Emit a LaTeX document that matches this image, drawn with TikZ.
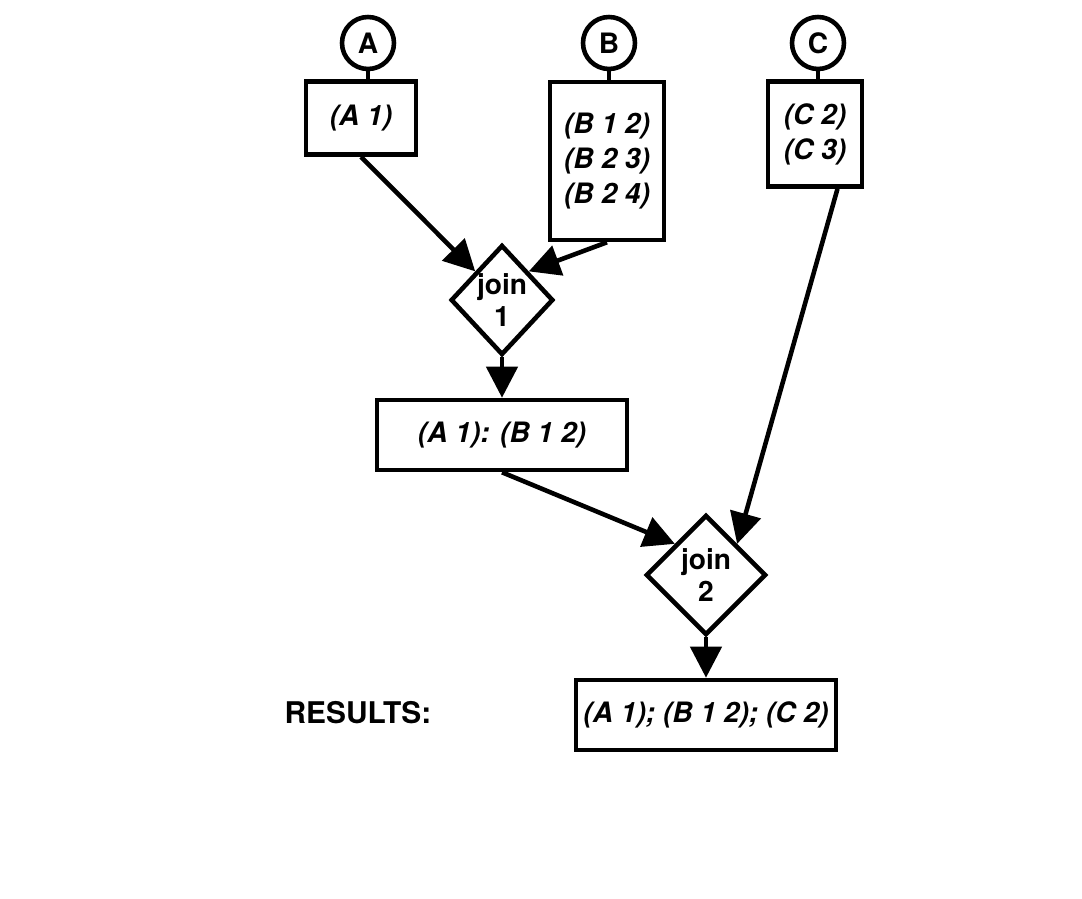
\documentclass[tikz,border=0pt]{standalone}
\usepackage{fontspec}
\setmainfont{TeX Gyre Heros}
\usetikzlibrary{arrows.meta,shapes.geometric}

\begin{document}
\begin{tikzpicture}[x=0.02cm,y=-0.02cm, line width=2.6pt,
    tup/.style={draw, rectangle, inner sep=2pt, align=center,
      font=\fontsize{16}{20}\selectfont\bfseries\itshape},
    src/.style={draw, circle, minimum size=1.04cm, inner sep=0pt,
      font=\fontsize{16}{18}\selectfont\bfseries},
    joinnode/.style={draw, diamond, inner sep=0pt, align=center,
      font=\fontsize{16}{18}\selectfont\bfseries},
    arr/.style={-{Triangle[length=0.62cm,width=0.62cm]}}]
\useasboundingbox (0,0) rectangle (1082,899);

% the three sources and their tokens
\node[src] (ca) at (368,43) {A};
\node[src] (cb) at (609,43) {B};
\node[src] (cc) at (818,43) {C};
\node[tup, minimum width=2.2cm, minimum height=1.46cm] (ta) at (361,118) {(A 1)};
\node[tup, minimum width=2.28cm, minimum height=3.16cm] (tb) at (607,161)
  {(B 1 2)\\(B 2 3)\\(B 2 4)};
\node[tup, minimum width=1.88cm, minimum height=2.1cm] (tc) at (815,134)
  {(C 2)\\(C 3)};
\draw (ca) -- (ca |- ta.north);
\draw (cb) -- (cb |- tb.north);
\draw (cc) -- (cc |- tc.north);

% joins
\node[joinnode, minimum width=1.94cm, minimum height=2.2cm] (j1) at (502,300) {join\\1};
\node[tup, minimum width=5cm, minimum height=1.4cm] (tab) at (502,435) {(A 1): (B 1 2)};
\node[joinnode, minimum width=2.4cm, minimum height=2.4cm] (j2) at (706,575) {join\\2};
\node[tup, minimum width=5.2cm, minimum height=1.4cm] (res) at (706,715)
  {(A 1); (B 1 2); (C 2)};
\node[font=\fontsize{17}{20}\selectfont\bfseries] (lbl) at (358,713) {RESULTS:};

\draw[arr] (ta.south) -- (j1.north west);
\draw[arr] (tb.south) -- (j1.north east);
\draw[arr] (j1) -- (tab);
\draw[arr] (tab.south) -- (j2.north west);
\draw[arr] ([xshift=0.45cm]tc.south) -- (j2.north east);
\draw[arr] (j2) -- (res);
\end{tikzpicture}
\end{document}
